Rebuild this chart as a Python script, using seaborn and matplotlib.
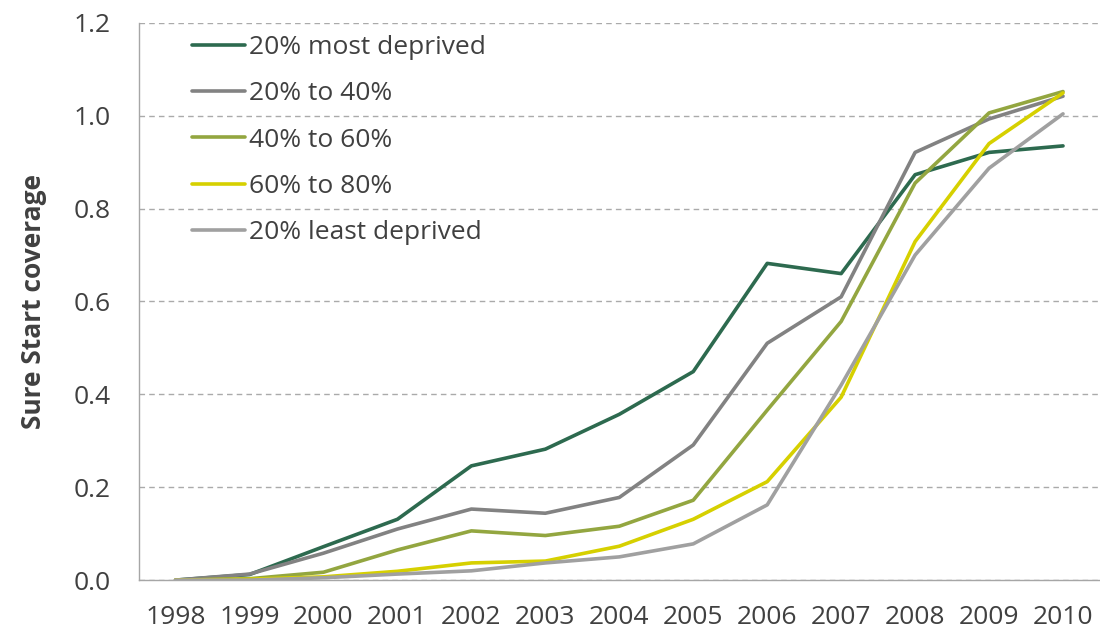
import pandas as pd
import numpy as np
import matplotlib
matplotlib.use('Agg')
import matplotlib.pyplot as plt
from matplotlib.ticker import MultipleLocator, FixedLocator
import seaborn as sns

# ── Data ──────────────────────────────────────────────────
years = [1998, 1999, 2000, 2001, 2002, 2003, 2004, 2005, 2006, 2007, 2008, 2009, 2010]
most_deprived = [0.0, 0.012, 0.072, 0.131, 0.246, 0.282, 0.357, 0.449, 0.682, 0.660, 0.873, 0.921, 0.935]
pct_20_40 = [0.0, 0.013, 0.058, 0.110, 0.153, 0.144, 0.178, 0.291, 0.510, 0.610, 0.921, 0.993, 1.042]
pct_40_60 = [0.0, 0.003, 0.017, 0.065, 0.106, 0.096, 0.116, 0.172, 0.366, 0.557, 0.855, 1.006, 1.052]
pct_60_80 = [0.0, 0.002, 0.007, 0.019, 0.037, 0.041, 0.073, 0.131, 0.212, 0.394, 0.729, 0.940, 1.049]
least_deprived = [0.0, 0.000, 0.005, 0.013, 0.020, 0.037, 0.050, 0.078, 0.162, 0.420, 0.700, 0.887, 1.004]

series_names = ['20% most deprived', '20% to 40%', '40% to 60%', '60% to 80%', '20% least deprived']
series_vals = [most_deprived, pct_20_40, pct_40_60, pct_60_80, least_deprived]
colors = ['#2D6A4F', '#828282', '#93A640', '#D6D000', '#A0A0A0']

df = pd.concat([pd.DataFrame({'Year': years, 'Coverage': v, 'Group': n})
                for n, v in zip(series_names, series_vals)], ignore_index=True)

# ── Plot ───────────────────────────────────────────────────
sns.set_style('white')
plt.rcParams['font.family'] = ['Open Sans', 'DejaVu Sans']
fs = 19
txt = '#404040'

fig, ax = plt.subplots(figsize=(11, 6.34), dpi=100)
fig.subplots_adjust(left=0.126, right=1.0, top=0.964, bottom=0.085)

sns.lineplot(data=df, x='Year', y='Coverage', hue='Group', hue_order=series_names,
             palette=dict(zip(series_names, colors)), linewidth=2.6, ax=ax)

ax.set_xlim(1997.5, 2010.5)
ax.set_ylim(0, 1.2)
ax.yaxis.set_major_locator(MultipleLocator(0.2))
ax.set_yticklabels([f'{t:.1f}' for t in ax.get_yticks()])
ax.set_xticks(years)
ax.set_xticklabels([str(y) for y in years])
ax.xaxis.set_minor_locator(FixedLocator(np.arange(1997.5, 2011, 1.0)))
ax.tick_params(axis='x', which='major', length=0, pad=18, labelsize=fs, labelcolor=txt)
ax.tick_params(axis='x', which='minor', length=8, width=1, color='#A6A6A6', direction='out')
ax.tick_params(axis='y', which='major', length=6, width=1, color='#A6A6A6', labelsize=fs,
               labelcolor=txt, pad=14)

ax.grid(axis='y', linestyle=(0, (4, 3)), color='#AAAAAA', linewidth=1)
ax.set_axisbelow(True)
for s in ['top', 'right']:
    ax.spines[s].set_visible(False)
for s in ['left', 'bottom']:
    ax.spines[s].set_color('#A6A6A6')
    ax.spines[s].set_linewidth(1)

ax.set_xlabel('')
ax.set_ylabel('Sure Start coverage', fontsize=fs, fontweight='bold', color=txt, labelpad=19)

leg = ax.legend(loc='upper left', bbox_to_anchor=(0.031, 1.021), frameon=False, fontsize=fs,
                handlelength=2.0, handletextpad=0.15, labelspacing=0.81)
for t in leg.get_texts():
    t.set_color(txt)
for h in leg.get_lines():
    h.set_linewidth(2.6)

plt.savefig('out.png', dpi=100)
